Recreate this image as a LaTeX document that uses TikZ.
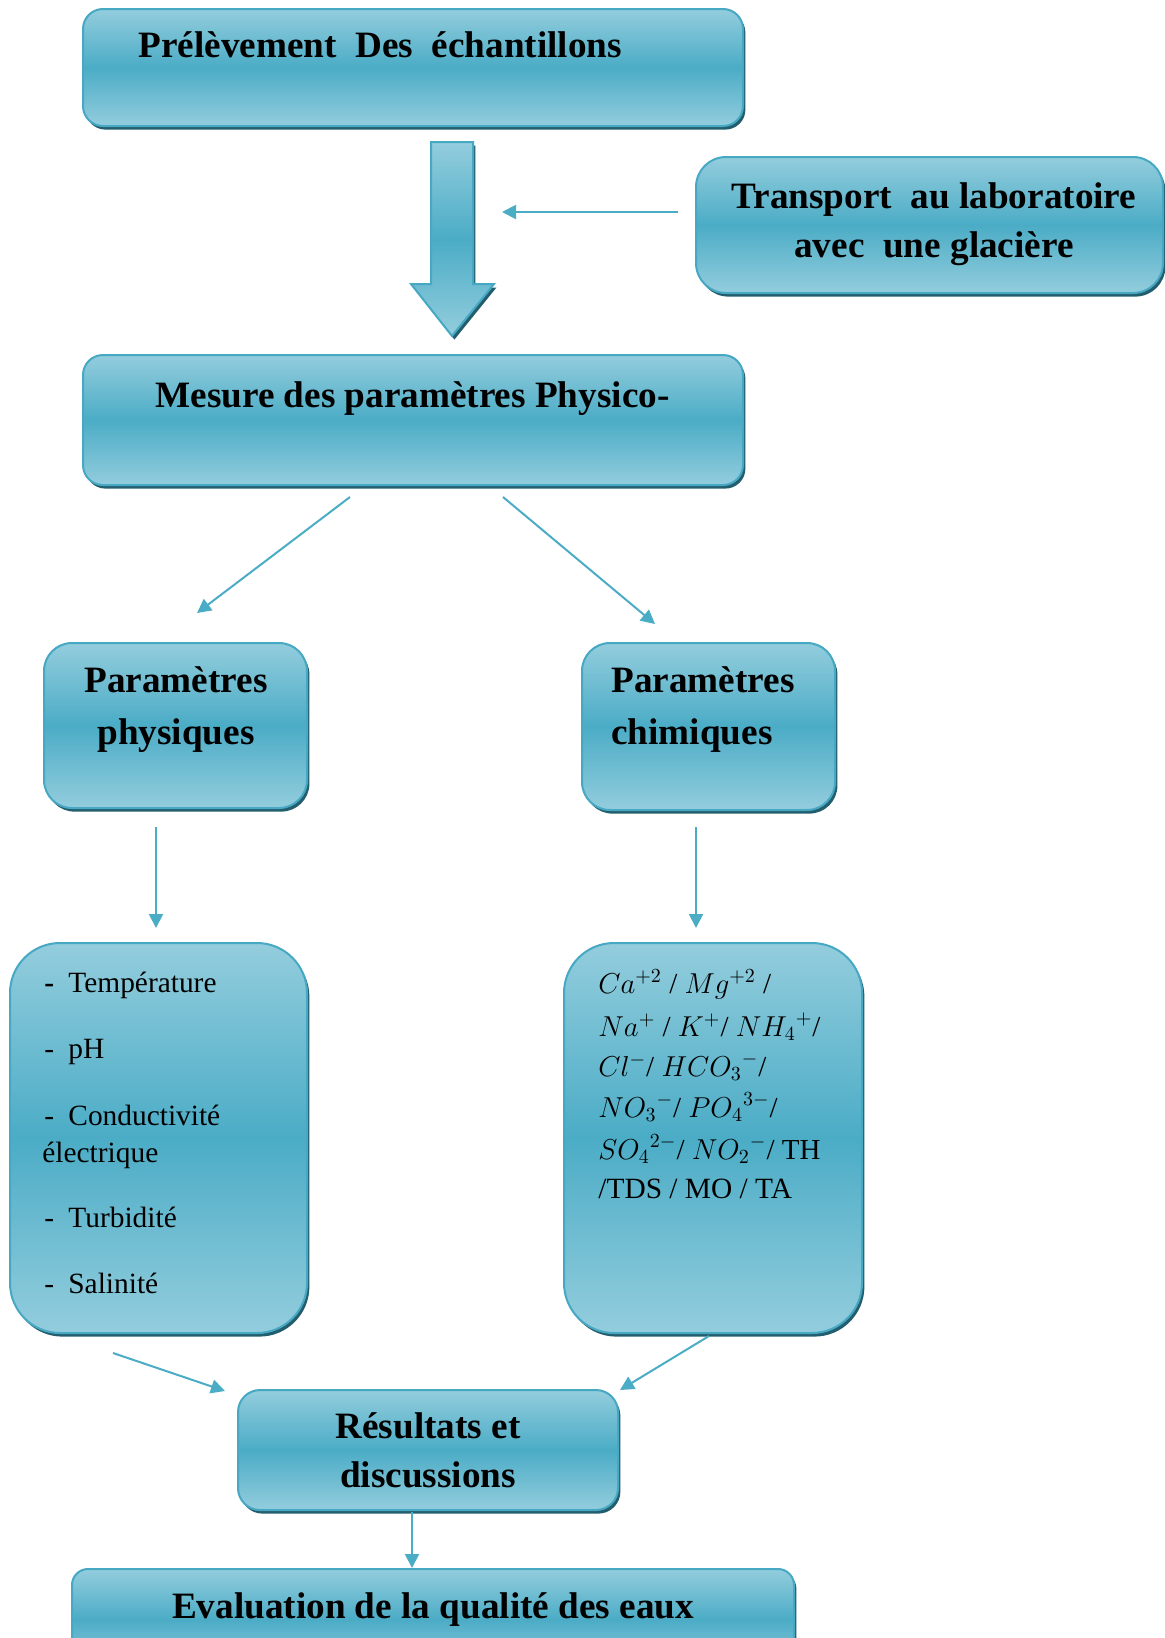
\documentclass[tikz,border=0pt]{standalone}
\usepackage{fontspec}
\setmainfont{Liberation Serif}
\usetikzlibrary{arrows.meta,shadows,fit}
\definecolor{lightc}{HTML}{93CDDD}
\definecolor{midc}{HTML}{4BACC6}
\definecolor{edgec}{HTML}{46A8C3}
\definecolor{shadec}{HTML}{235E6E}
\definecolor{arrc}{HTML}{4BACC6}
\tikzset{
  box/.style={draw=edgec, line width=1pt, top color=lightc, bottom color=lightc, middle color=midc,
    drop shadow={shadow xshift=1.2pt, shadow yshift=-1.8pt, fill=shadec, opacity=1},
    inner sep=0pt, outer sep=0pt},
  head/.style={inner sep=0pt, anchor=base, font=\fontsize{18.6}{22}\selectfont\bfseries},
  headw/.style={head, anchor=base west},
  item/.style={inner sep=0pt, anchor=base west, font=\fontsize{14.7}{17}\selectfont},
  chem/.style={inner sep=0pt, anchor=base west, font=\fontsize{14.5}{17}\selectfont},
  con/.style={draw=arrc, line width=1pt, -{Triangle[length=7pt,width=7pt]}},
}
\begin{document}
\begin{tikzpicture}[x=0.5pt,y=-0.5pt]
\useasboundingbox (0,0) rectangle (1165,1638);

% boxes
\node[box, rounded corners=10pt, fit={(83,9) (743,126)}] (prel) {};
\node[box, rounded corners=15pt, fit={(696,157) (1163,293)}] (trans) {};
\node[box, rounded corners=10pt, fit={(83,355) (743,485)}] (mes) {};
\node[box, rounded corners=14pt, fit={(44,643) (307,808)}] (phys) {};
\node[box, rounded corners=14pt, fit={(582,643) (835,810)}] (chim) {};
\node[box, rounded corners=25pt, fit={(10,943) (307,1333)}] (physl) {};
\node[box, rounded corners=25pt, fit={(564,943) (862,1333)}] (chiml) {};
\node[box, rounded corners=11pt, fit={(238,1390) (618,1510)}] (res) {};
\node[box, rounded corners=8pt, fit={(72,1569) (794,1670)}] (eval) {};

% big block arrow
\path[box] (431,142) -- (473,142) -- (473,284) -- (494,284) -- (452,336) -- (411,284) -- (431,284) -- cycle;

% texts
\node[headw] (tprel) at (138,57) {Prélèvement~ Des~ échantillons};
\node[head] (ttr1) at (934,208) {Transport~ au laboratoire};
\node[head] (ttr2) at (934,257) {avec~ une glacière};
\node[headw] (tmes) at (155,407) {Mesure des paramètres Physico-};
\node[head] (tph1) at (176,692) {Paramètres};
\node[head] (tph2) at (176,744) {physiques};
\node[headw] (tch1) at (611,692) {Paramètres};
\node[headw] (tch2) at (611,744) {chimiques};
\node[head] (tres1) at (428,1438) {Résultats et};
\node[head] (tres2) at (428,1487) {discussions};
\node[head] (teval) at (433,1618) {Evaluation de la qualité des eaux};

% physical list
\node[item] (p1) at (44,992) {\makebox[12pt][l]{\textbf{-}}Température};
\node[item] (p2) at (44,1058) {\makebox[12pt][l]{-}pH};
\node[item] (p3) at (44,1125) {\makebox[12pt][l]{-}Conductivité};
\node[item] (p4) at (42,1162) {électrique};
\node[item] (p5) at (44,1227) {\makebox[12pt][l]{-}Turbidité};
\node[item] (p6) at (44,1293) {\makebox[12pt][l]{-}Salinité};

% chemical list
\node[chem] (c1) at (598,993) {$Ca^{+2}$ / $Mg^{+2}$ /};
\node[chem] (c2) at (598,1036) {$Na^{+}$ / $K^{+}$/ ${NH_4}^{+}$/};
\node[chem] (c3) at (598,1076) {$Cl^{-}$/ ${HCO_3}^{-}$/};
\node[chem] (c4) at (598,1117) {${NO_3}^{-}$/ ${PO_4}^{3-}$/};
\node[chem] (c5) at (598,1159) {${SO_4}^{2-}$/ ${NO_2}^{-}$/ TH};
\node[item] (c6) at (598,1198) {/TDS / MO / TA};

% connector end points
\coordinate (a1s) at (678,212);
\coordinate (a1e) at (502,212);
\coordinate (a2s) at (350,497);
\coordinate (a2e) at (197,613);
\coordinate (a3s) at (503,497);
\coordinate (a3e) at (655,624);
\coordinate (a4s) at (156,827);
\coordinate (a4e) at (156,928);
\coordinate (a5s) at (696,827);
\coordinate (a5e) at (696,928);
\coordinate (a6s) at (113,1353);
\coordinate (a6e) at (225,1391);
\coordinate (a7s) at (709,1336);
\coordinate (a7e) at (620,1390);
\coordinate (a8s) at (412,1512);
\coordinate (a8e) at (412,1568);

\draw[con] (a1s) -- (a1e);
\draw[con] (a2s) -- (a2e);
\draw[con] (a3s) -- (a3e);
\draw[con] (a4s) -- (a4e);
\draw[con] (a5s) -- (a5e);
\draw[con] (a6s) -- (a6e);
\draw[con] (a7s) -- (a7e);
\draw[con] (a8s) -- (a8e);
\end{tikzpicture}
\end{document}
